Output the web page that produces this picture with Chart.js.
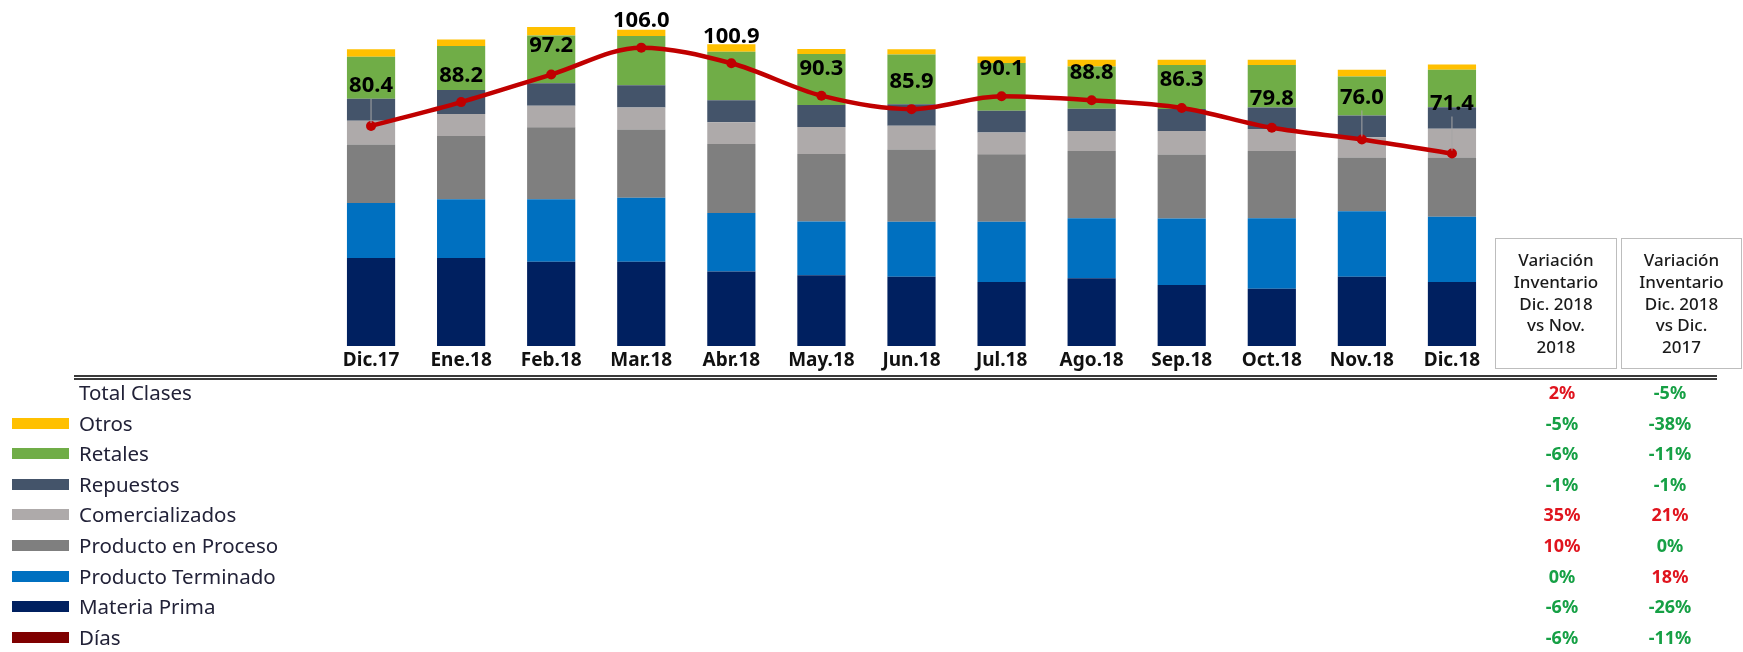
<!DOCTYPE html>
<html>
<head>
<meta charset="utf-8">
<script src="https://cdn.jsdelivr.net/npm/chart.js@4"></script>
<style>
  body { margin: 0; background: #fff; font-family: 'Noto Sans', sans-serif; }
  #wrap { position: relative; width: 1743px; height: 652px; overflow: hidden; }
  #chartBox { position: absolute; left: 0; top: 0; width: 1743px; height: 376px; }
  .rule { position: absolute; left: 74px; width: 1643px; top: 375px; height: 1px;
          border-top: 2px solid #3a3a3a; border-bottom: 2px solid #3a3a3a; }
  .head { position: absolute; top: 238px; height: 129px; border: 1.5px solid #bdbdbd;
          display: flex; align-items: center; justify-content: center; text-align: center;
          font-size: 17px; line-height: 21.7px; color: #1a1a1a; font-weight: 500; }
  .row { position: absolute; left: 0; height: 30.6px; width: 1743px; }
  .sw { position: absolute; left: 12px; top: 10px; width: 57px; height: 11px; }
  .name { position: absolute; left: 79px; top: 0; line-height: 30.6px; font-size: 20.5px; color: #222238; }
  .pct { position: absolute; top: 0; width: 100px; margin-left: -50px; text-align: center;
         line-height: 30.6px; font-size: 18px; font-weight: bold; }
</style>
</head>
<body>
<div id="wrap">
  <div id="chartBox"><canvas id="myChart"></canvas></div>
  <div class="head" style="left:1495px;width:120px;">Variación<br>Inventario<br>Dic. 2018<br>vs Nov.<br>2018</div>
  <div class="head" style="left:1621px;width:119px;">Variación<br>Inventario<br>Dic. 2018<br>vs Dic.<br>2017</div>
  <div class="rule"></div>
  <div id="rows"></div>
</div>
<script>
/*Data*/

const months = ['Dic.17', 'Ene.18', 'Feb.18', 'Mar.18', 'Abr.18', 'May.18', 'Jun.18', 'Jul.18', 'Ago.18', 'Sep.18', 'Oct.18', 'Nov.18', 'Dic.18'];

const materiaPrima = [29.3, 29.3, 28.1, 28.1, 24.8, 23.6, 23.1, 21.3, 22.6, 20.3, 19.1, 23.1, 21.3];
const productoTerminado = [18.4, 19.6, 20.8, 21.3, 19.5, 17.9, 18.3, 20.1, 20.0, 22.2, 23.5, 21.8, 21.8];
const productoProceso = [19.5, 21.1, 24.0, 22.8, 23.0, 22.5, 24.1, 22.5, 22.4, 21.3, 22.4, 17.9, 19.7];
const comercializados = [7.9, 7.3, 7.2, 7.3, 7.3, 9.0, 7.9, 7.3, 6.7, 7.9, 7.3, 6.8, 9.6];
const repuestos = [7.3, 8.0, 7.5, 7.4, 7.3, 7.3, 7.2, 7.2, 7.4, 7.3, 7.2, 7.2, 7.2];
const retales = [14.0, 14.7, 15.9, 16.4, 16.2, 17.0, 16.6, 15.9, 14.1, 14.7, 14.2, 13.0, 12.5];
const otros = [2.5, 2.2, 2.8, 2.1, 2.5, 1.7, 1.7, 2.2, 2.2, 1.7, 1.7, 2.3, 1.7];
const dias = [80.4, 88.2, 97.2, 106.0, 100.9, 90.3, 85.9, 90.1, 88.8, 86.3, 79.8, 76.0, 71.4];

const rowNames = ['Total Clases', 'Otros', 'Retales', 'Repuestos', 'Comercializados', 'Producto en Proceso', 'Producto Terminado', 'Materia Prima', 'Días'];
const varVsNov = [2, -5, -6, -1, 35, 10, 0, -6, -6];
const varVsDic = [-5, -38, -11, -1, 21, 0, 18, -26, -11];

/*Styles*/

const colors = {
    'Otros': '#ffc000',
    'Retales': '#70ad47',
    'Repuestos': '#44546a',
    'Comercializados': '#aeaaaa',
    'Producto en Proceso': '#7f7f7f',
    'Producto Terminado': '#0070c0',
    'Materia Prima': '#002060',
    'Días': '#7f0000'
};
// how far each value label sits above its point
const labelLift = [40, 26, 29, 27, 27, 27, 27, 28, 28, 28, 29, 42, 50];

/*Table under the chart*/

function buildRows() {
    const box = document.getElementById('rows');
    rowNames.forEach((name, i) => {
        const row = document.createElement('div');
        row.className = 'row';
        row.style.top = (377 + i * 30.6) + 'px';
        let html = '';
        if (colors[name]) {
            html += '<div class="sw" style="background:' + colors[name] + '"></div>';
        }
        html += '<div class="name">' + name + '</div>';
        [[varVsNov[i], 1562], [varVsDic[i], 1670]].forEach(([v, x]) => {
            const c = v > 0 ? '#e0141e' : '#16a045';
            html += '<div class="pct" style="left:' + x + 'px;color:' + c + '">' + v + '%</div>';
        });
        row.innerHTML = html;
        box.appendChild(row);
    });
}

/*Chart*/

const valueLabels = {
    id: 'valueLabels',
    afterDatasetsDraw(chart) {
        const ctx = chart.ctx;
        const meta = chart.getDatasetMeta(7);
        ctx.save();
        meta.data.forEach((pt, i) => {
            const lift = labelLift[i];
            const ly = pt.y - lift;
            if (lift > 35) {
                ctx.strokeStyle = '#a6a6a6';
                ctx.lineWidth = 1;
                ctx.beginPath();
                ctx.moveTo(pt.x, pt.y - 3);
                ctx.lineTo(pt.x, ly + 13);
                ctx.stroke();
            }
            ctx.fillStyle = '#000';
            ctx.font = "bold 22px 'Noto Sans', sans-serif";
            ctx.textAlign = 'center';
            ctx.textBaseline = 'middle';
            ctx.fillText(dias[i].toFixed(1), pt.x, ly);
        });
        ctx.restore();
    }
};

function barSet(label, data) {
    return {
        type: 'bar',
        label: label,
        data: data,
        backgroundColor: colors[label],
        yAxisID: 'y',
        order: 1,
        barPercentage: 0.535,
        categoryPercentage: 1
    };
}

function initChart() {
    const ctx = document.getElementById('myChart').getContext('2d');
    Chart.defaults.font.family = "'Noto Sans', sans-serif";

    new Chart(ctx, {
        type: 'bar',
        data: {
            labels: months,
            datasets: [
                barSet('Materia Prima', materiaPrima),
                barSet('Producto Terminado', productoTerminado),
                barSet('Producto en Proceso', productoProceso),
                barSet('Comercializados', comercializados),
                barSet('Repuestos', repuestos),
                barSet('Retales', retales),
                barSet('Otros', otros),
                {
                    type: 'line',
                    label: 'Días',
                    data: dias,
                    yAxisID: 'y2',
                    order: 0,
                    borderColor: '#c00000',
                    backgroundColor: '#c00000',
                    borderWidth: 4.5,
                    pointRadius: 5,
                    pointBackgroundColor: '#c00000',
                    pointBorderWidth: 0,
                    tension: 0.35,
                    cubicInterpolationMode: 'monotone'
                }
            ]
        },
        options: {
            responsive: true,
            maintainAspectRatio: false,
            animation: false,
            layout: { padding: { left: 326, right: 246, top: 10, bottom: 0 } },
            plugins: { legend: { display: false }, tooltip: { enabled: false } },
            scales: {
                x: {
                    stacked: true,
                    grid: { display: false, drawTicks: false },
                    border: { display: false },
                    ticks: { color: '#111', font: { size: 19, weight: 'bold' }, padding: 3 },
                    afterFit: s => { s.height = 30; }
                },
                y: { stacked: true, display: false, min: 0, max: 112 },
                y2: { display: false, min: 8.5, max: 118.3 }
            }
        },
        plugins: [valueLabels]
    });
}

const app = () => {
    buildRows();
    initChart();
};
app();
</script>
</body>
</html>
